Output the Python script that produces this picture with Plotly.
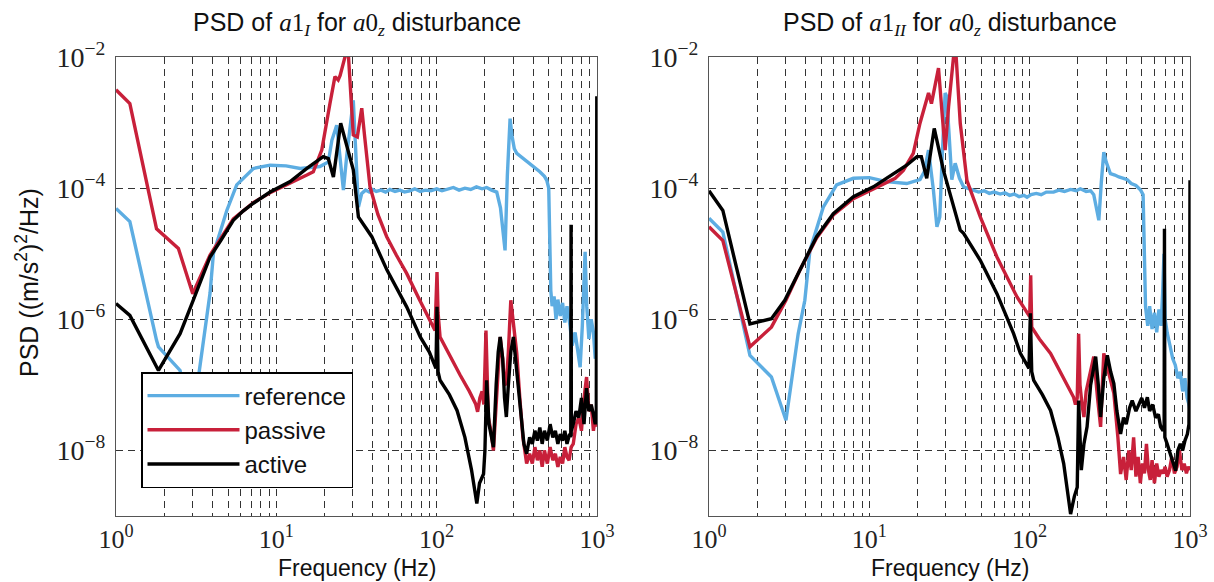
import plotly.graph_objects as go

# ---------------- data (frequency in Hz, PSD given as log10 exponent) ----------------
# Left panel: PSD of a1_I
f_ref_L = [1.0, 1.22, 1.79, 1.84, 2.51, 2.9, 3.26, 3.5, 3.86, 4.05, 4.91, 5.66, 7.19, 9.14, 11.5, 14.1, 18.7,
           21.1, 22.2, 23.8, 25.0, 26.2, 27.5, 30.2, 32.5, 34.1, 36, 38, 40, 42, 45, 48, 51, 55, 59, 63, 68, 73,
           79, 85, 92, 100, 108, 117, 127, 138, 150, 163, 177, 192, 205, 220, 237, 250, 260, 267, 276, 287, 295,
           305, 316, 335, 355, 383, 410, 440, 470, 486, 500, 508, 515, 525, 540, 555, 570, 590, 610, 630, 650,
           679, 700, 730, 760, 785, 810, 830, 843, 863, 890, 920, 950, 975, 997]
p_ref_L = [-4.31, -4.51, -6.32, -6.42, -6.78, -7.8, -6.9, -6.32, -5.6, -5.0, -4.34, -3.95, -3.70, -3.65, -3.66,
           -3.70, -3.67, -3.60, -3.27, -3.04, -3.5, -4.03, -3.5, -2.66, -4.29, -4.08, -4.03, -4.06, -4.02, -4.05,
           -4.03, -4.06, -4.02, -4.05, -4.03, -4.06, -4.04, -4.01, -4.05, -4.03, -4.04, -4.01, -4.04, -4.02, -3.99,
           -4.03, -4.0, -4.02, -3.98, -4.01, -3.99, -4.03, -4.06, -4.3, -4.7, -4.95, -3.8, -2.94, -3.2, -3.4, -3.47,
           -3.52, -3.57, -3.62, -3.68, -3.75, -3.82, -3.88, -4.0, -4.6, -5.56, -5.8, -5.65, -6.0, -5.7, -5.95,
           -5.75, -6.05, -5.8, -6.1, -6.4, -6.2, -6.5, -6.73, -6.1, -5.5, -4.97, -5.8, -6.3, -6.0, -6.2, -6.6, -6.5]

f_pas_L = [1.0, 1.22, 1.79, 2.45, 3.01, 3.86, 5.39, 7.19, 9.14, 12.2, 15.5, 17.0, 19.2, 21.6, 23.2, 24.3, 25.0,
           26.8, 27.5, 28.2, 30.2, 32.0, 34.1, 35.5, 38.4, 43, 48.8, 56, 65, 78, 90, 97.7, 100.5, 102, 105, 120,
           140, 160, 175, 180, 186, 192, 197, 203, 210, 218, 226, 235, 242, 249, 258, 265, 272, 280, 290, 300,
           310, 316, 330, 345, 364, 380, 395, 410, 425, 440, 455, 470, 490, 510, 530, 550, 570, 590, 610, 630,
           650, 670, 690, 711, 740, 770, 800, 830, 861, 890, 920, 950, 975, 997]
p_pas_L = [-2.50, -2.71, -4.62, -4.92, -5.61, -5.02, -4.47, -4.22, -4.07, -3.93, -3.80, -3.75, -3.42, -2.71,
           -2.30, -2.35, -2.28, -2.0, -1.8, -2.0, -3.19, -3.22, -2.78, -3.2, -3.98, -4.4, -4.74, -5.02, -5.30,
           -5.7, -6.0, -6.17, -5.28, -5.9, -6.27, -6.55, -6.85, -7.1, -7.29, -7.41, -7.2, -7.1, -7.3, -6.17, -7.5,
           -7.7, -8.0, -7.3, -6.8, -6.27, -6.6, -7.0, -6.98, -6.5, -5.71, -6.0, -6.3, -6.52, -7.2, -7.8, -8.2,
           -8.05, -8.2, -7.95, -8.15, -8.0, -8.25, -8.0, -8.2, -7.95, -8.15, -8.05, -8.25, -8.1, -8.2, -7.95,
           -8.1, -8.15, -7.95, -7.9, -7.6, -7.5, -7.7, -7.2, -6.88, -7.4, -7.3, -7.7, -7.5, -7.64]

f_act_L = [1.0, 1.22, 1.84, 2.51, 3.03, 3.86, 4.5, 5.39, 6.2, 7.19, 9.14, 12.2, 15.5, 19.6, 21.1, 22.7, 25.2,
           28.8, 30.2, 32.5, 39.4, 49, 65, 79, 90, 99, 100.5, 102, 105, 120, 134, 150, 165, 178, 185, 196, 200,
           205, 212, 220, 226, 235, 242, 249, 258, 265, 272, 280, 290, 301, 316, 335, 350, 364, 380, 395, 410,
           425, 440, 455, 470, 490, 510, 530, 550, 570, 590, 610, 630, 650, 675, 686, 689, 692, 711, 740, 770,
           800, 830, 860, 890, 920, 950, 975, 990, 997]
p_act_L = [-5.76, -5.94, -6.78, -6.22, -5.71, -5.05, -4.8, -4.49, -4.35, -4.23, -4.06, -3.90, -3.70, -3.52,
           -3.55, -3.83, -3.01, -3.57, -3.72, -4.44, -4.74, -5.25, -5.81, -6.27, -6.5, -6.75, -5.81, -6.8, -6.93,
           -7.15, -7.39, -7.8, -8.3, -8.81, -8.5, -8.36, -8.0, -6.93, -7.6, -7.8, -7.95, -7.0, -6.5, -6.27, -6.6,
           -7.2, -7.49, -7.0, -6.5, -6.27, -6.8, -7.5, -7.9, -8.05, -7.8, -7.9, -7.7, -7.85, -7.65, -7.9, -7.7,
           -7.85, -7.6, -7.8, -7.7, -7.9, -7.75, -7.85, -7.7, -7.9, -7.75, -7.8, -4.56, -7.7, -7.6, -7.4, -7.5,
           -7.2, -7.6, -7.05, -7.4, -7.3, -7.45, -7.6, -7.5, -2.6]

# Right panel: PSD of a1_II
f_ref_R = [1.0, 1.22, 1.80, 2.45, 3.02, 3.6, 3.96, 4.26, 5.16, 6.25, 7.95, 10, 12.8, 17.1, 20.7, 22.0, 23.4,
           25.1, 26.4, 27.5, 28.5, 29.7, 30.4, 31.5, 32.7, 34.3, 36.5, 38.7, 44.7, 48, 52, 56, 60, 65.6, 70, 75,
           80, 86, 92, 96.3, 102, 110, 118, 127, 141, 152, 165, 180, 195, 207, 225, 240, 251, 262, 270, 280, 290,
           300, 319, 340, 360, 385, 406, 430, 460, 492, 510, 528, 545, 560, 580, 600, 620, 640, 660, 675, 688,
           700, 720, 750, 780, 810, 840, 870, 900, 930, 960, 985, 1000]
p_ref_R = [-4.46, -4.67, -6.55, -6.88, -7.54, -6.22, -5.71, -4.95, -4.29, -3.95, -3.85, -3.84, -3.90, -3.93,
           -3.87, -3.75, -3.42, -4.03, -4.59, -4.44, -3.5, -2.55, -2.60, -3.2, -3.87, -3.62, -3.85, -3.98, -4.03,
           -4.06, -4.04, -4.08, -4.06, -4.09, -4.07, -4.11, -4.09, -4.13, -4.11, -4.14, -4.1, -4.08, -4.1, -4.06,
           -4.06, -4.03, -4.05, -4.02, -4.04, -4.01, -4.05, -4.04, -4.1, -4.3, -4.49, -3.9, -3.45, -3.6, -3.78,
           -3.8, -3.83, -3.85, -3.87, -3.93, -3.96, -4.03, -4.1, -5.81, -6.1, -5.8, -6.15, -5.9, -6.2, -5.85, -6.1,
           -5.6, -5.0, -6.0, -6.2, -6.4, -6.6, -6.7, -6.9, -6.8, -7.1, -6.9, -7.2, -7.3, -7.39]

f_pas_R = [1.0, 1.22, 1.80, 2.45, 3.02, 3.69, 4.69, 5.96, 7.95, 10.6, 12.8, 14.5, 16.3, 18.8, 20.7, 21.6, 23.4,
           24.4, 25.5, 27.0, 28.3, 29.7, 31.2, 33.5, 34.5, 35.5, 36.9, 40.6, 49.2, 62.5, 83.4, 100, 101.5, 103,
           115, 135, 160, 188, 193, 198, 202, 206, 212, 218, 225, 240, 251, 265, 277, 284, 290, 310, 335, 355,
           369, 385, 400, 415, 430, 445, 460, 475, 490, 505, 520, 535, 550, 565, 580, 600, 620, 640, 660, 680,
           700, 720, 745, 770, 800, 830, 860, 890, 920, 950, 975, 1000]
p_pas_R = [-4.59, -4.80, -6.42, -6.12, -5.71, -5.25, -4.76, -4.41, -4.16, -4.01, -3.92, -3.85, -3.73, -3.47,
           -3.01, -2.86, -2.55, -2.71, -2.45, -2.17, -2.8, -3.42, -2.76, -2.0, -1.85, -2.3, -3.01, -3.88, -4.44,
           -5.05, -5.66, -5.96, -5.33, -6.12, -6.3, -6.52, -6.85, -7.19, -7.3, -7.2, -6.22, -7.0, -7.3, -7.49,
           -7.1, -6.8, -6.57, -7.2, -7.64, -7.0, -6.52, -6.8, -7.13, -7.8, -8.36, -8.1, -8.45, -8.0, -8.3, -7.8,
           -8.4, -8.1, -8.5, -8.2, -8.35, -7.9, -8.3, -8.45, -8.15, -8.5, -8.2, -8.4, -8.3, -8.35, -8.25, -8.4,
           -8.3, -8.1, -8.35, -8.25, -8.0, -8.3, -8.2, -8.35, -8.25, -8.3]

f_act_R = [1.0, 1.22, 1.80, 2.45, 2.97, 3.69, 4.69, 5.96, 7.95, 10.6, 14.1, 17.1, 19.8, 21.1, 22.8, 25.4, 29,
           31.9, 36.9, 38.7, 49.2, 62.5, 79.4, 87.5, 99, 101, 103, 106, 120, 135, 150, 163, 172, 180, 190, 198,
           202, 206, 210, 218, 228, 240, 258, 268, 277, 290, 305, 320, 335, 350, 369, 385, 400, 420, 436, 460,
           480, 500, 520, 542, 560, 585, 610, 635, 656, 680, 690, 693, 697, 720, 760, 790, 814, 840, 870, 900,
           930, 963, 985, 995, 1000]
p_act_R = [-4.04, -4.34, -6.07, -5.99, -5.71, -5.25, -4.74, -4.39, -4.13, -3.98, -3.78, -3.65, -3.52, -3.52,
           -3.85, -3.09, -3.73, -4.08, -4.64, -4.69, -5.10, -5.61, -6.22, -6.52, -6.75, -5.91, -6.8, -6.93, -7.15,
           -7.39, -7.8, -8.2, -8.6, -8.97, -8.7, -8.56, -7.24, -8.0, -8.3, -7.9, -7.64, -7.0, -6.57, -7.0, -7.49,
           -6.9, -6.55, -6.8, -6.98, -7.4, -7.75, -7.5, -7.6, -7.35, -7.24, -7.4, -7.3, -7.2, -7.35, -7.19, -7.4,
           -7.3, -7.5, -7.45, -7.64, -7.7, -7.6, -4.62, -7.8, -7.9, -8.1, -8.2, -8.31, -8.0, -7.9, -8.0, -7.85,
           -7.75, -7.6, -6.0, -3.88]

series_names = ["reference", "passive", "active"]
series_colors = ["#5DADE2", "#C8203A", "#000000"]

x_tickvals = [1, 10, 100, 1000]
x_ticktext = ["10<sup>0</sup>", "10<sup>1</sup>", "10<sup>2</sup>", "10<sup>3</sup>"]
x_minor = [m * d for d in (1, 10, 100) for m in range(2, 10)]
y_tickvals = [1e-8, 1e-6, 1e-4, 1e-2]
y_ticktext = ["10<sup>−8</sup>", "10<sup>−6</sup>", "10<sup>−4</sup>", "10<sup>−2</sup>"]

SANS = "Liberation Sans, Arial, sans-serif"
SERIF = "Liberation Serif, Times New Roman, serif"

W, H = 1214, 582

def px(xp):
    return xp / W

def py(yp):
    return 1 - yp / H

fig = go.Figure()

panels = [
    ("x", "y", [(f_ref_L, p_ref_L), (f_pas_L, p_pas_L), (f_act_L, p_act_L)], True),
    ("x2", "y2", [(f_ref_R, p_ref_R), (f_pas_R, p_pas_R), (f_act_R, p_act_R)], False),
]
for xa, ya, data, show in panels:
    for (fx, pv), name, col in zip(data, series_names, series_colors):
        fig.add_trace(go.Scatter(
            x=fx, y=[10 ** v for v in pv], mode="lines", name=name,
            line=dict(color=col, width=3.4), xaxis=xa, yaxis=ya,
            showlegend=show, legendgroup=name,
        ))

grid_common = dict(gridcolor="rgba(0,0,0,0.8)", griddash="7px,5px", gridwidth=1)

def xaxis_cfg(domain):
    return dict(
        type="log", range=[0, 3], domain=domain, automargin=False,
        tickvals=x_tickvals, ticktext=x_ticktext,
        tickfont=dict(family=SERIF, size=26, color="#222"),
        showgrid=True, **grid_common,
        minor=dict(tickvals=x_minor, showgrid=True, ticks="", **grid_common),
        showline=True, mirror=True, linecolor="#555", linewidth=1.2,
        ticks="", ticklabelstandoff=0, zeroline=False,
    )

def yaxis_cfg(anchor):
    return dict(
        type="log", range=[-9, -2], domain=[py(516), py(57)], anchor=anchor, automargin=False,
        tickvals=y_tickvals, ticktext=y_ticktext,
        tickfont=dict(family=SERIF, size=28, color="#222"),
        showgrid=True, **grid_common,
        showline=True, mirror=True, linecolor="#555", linewidth=1.2,
        ticks="", ticklabelstandoff=4, zeroline=False,
    )

fig.update_layout(
    width=W, height=H,
    margin=dict(l=0, r=0, t=0, b=0),
    paper_bgcolor="white", plot_bgcolor="white",
    xaxis=dict(anchor="y", **xaxis_cfg([px(116), px(597)])),
    xaxis2=dict(anchor="y2", **xaxis_cfg([px(709), px(1190)])),
    yaxis=yaxis_cfg("x"),
    yaxis2=yaxis_cfg("x2"),
    legend=dict(
        x=px(141), y=py(372), xanchor="left", yanchor="top",
        bgcolor="white", bordercolor="black", borderwidth=1.5,
        font=dict(family=SANS, size=24, color="#111"),
        itemwidth=92, tracegroupgap=0,
    ),
    showlegend=True,
)

math = "font-family:Liberation Serif, serif"
titles = [
    ("x domain", "PSD of <span style='" + math + "'><i>a</i>1<sub><i>I</i></sub></span> for "
     "<span style='" + math + "'><i>a</i>0<sub><i>z</i></sub></span> disturbance"),
    ("x2 domain", "PSD of <span style='" + math + "'><i>a</i>1<sub><i>II</i></sub></span> for "
     "<span style='" + math + "'><i>a</i>0<sub><i>z</i></sub></span> disturbance"),
]
for xref, txt in titles:
    fig.add_annotation(
        xref=xref, yref="paper", x=0.5, y=py(24), xanchor="center", yanchor="middle",
        text=txt, showarrow=False, font=dict(family=SANS, size=25, color="#111"),
    )
    # x-axis title
    fig.add_annotation(
        xref=xref, yref="paper", x=0.5, y=py(568), xanchor="center", yanchor="middle",
        text="Frequency (Hz)", showarrow=False, font=dict(family=SANS, size=23, color="#111"),
    )

# y-axis title (left panel only)
fig.add_annotation(
    xref="paper", yref="paper", x=px(27), y=py(283), xanchor="center", yanchor="middle",
    text="PSD ((m/s<sup>2</sup>)<sup>2</sup>/Hz)", textangle=-90, showarrow=False,
    font=dict(family=SANS, size=25, color="#111"),
)

# remove the default page margin so the figure fills the window exactly
fig.write_html(
    "out.html",
    config={"displayModeBar": False},
    post_script="document.body.style.margin='0px';document.body.style.overflow='hidden';",
)
